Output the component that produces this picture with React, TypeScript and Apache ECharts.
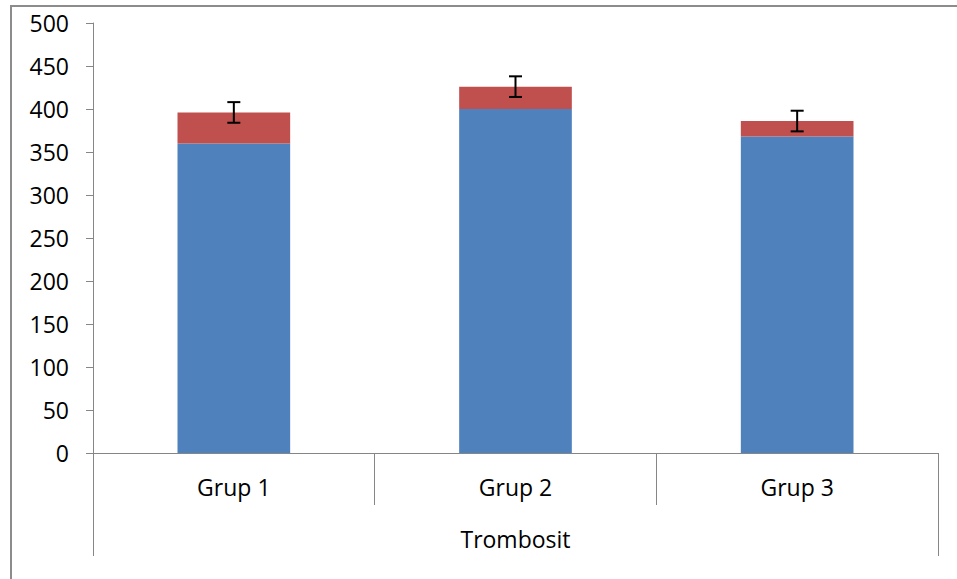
import React, { useEffect, useRef } from "react";
import * as echarts from "echarts";

const categories = ["Grup 1", "Grup 2", "Grup 3"];
const groupLabel = ["Trombosit"];
const blueValues = [360, 400, 368];
const redValues = [36, 26, 18];
const errorValues = [12, 12, 12];

const FONT = "'Open Sans', sans-serif";
const AXIS = "#868686";

export default function App() {
  const ref = useRef<HTMLDivElement>(null);
  useEffect(() => {
    const chart = echarts.init(ref.current!, null, { renderer: "svg" });
    const totals = blueValues.map((v, i) => v + redValues[i]);
    const errData = totals.map((t, i) => [i, t, errorValues[i]]);
    chart.setOption({
      animation: false,
      backgroundColor: "#ffffff",
      graphic: [
        {
          type: "rect",
          shape: { x: 11, y: 6, width: 1000, height: 700 },
          style: { fill: "none", stroke: "#8c8c8c", lineWidth: 2 },
          silent: true,
        },
      ],
      grid: { left: 93, top: 23, right: 19, bottom: 126 },
      xAxis: [
        {
          type: "category",
          data: categories,
          position: "bottom",
          axisLine: { show: true, lineStyle: { color: AXIS, width: 1 } },
          axisTick: { show: true, length: 52, lineStyle: { color: AXIS, width: 1 } },
          axisLabel: { color: "#000", fontFamily: FONT, fontSize: 23, margin: 22 },
        },
        {
          type: "category",
          data: groupLabel,
          position: "bottom",
          gridIndex: 0,
          axisLine: { show: false },
          axisTick: { show: true, length: 103, lineStyle: { color: AXIS, width: 1 } },
          axisLabel: { color: "#000", fontFamily: FONT, fontSize: 23, margin: 74 },
        },
      ],
      yAxis: {
        type: "value",
        min: 0,
        max: 500,
        interval: 50,
        axisLine: { show: true, lineStyle: { color: AXIS, width: 1 } },
        axisTick: { show: true, length: 7, lineStyle: { color: AXIS, width: 1 } },
        splitLine: { show: false },
        axisLabel: { color: "#000", fontFamily: FONT, fontSize: 23, margin: 24 },
      },
      series: [
        {
          type: "bar",
          stack: "a",
          data: blueValues,
          barWidth: "40%",
          itemStyle: { color: "#4F81BD" },
        },
        {
          type: "bar",
          stack: "a",
          data: redValues,
          barWidth: "40%",
          itemStyle: { color: "#C0504D" },
        },
        {
          type: "custom",
          data: errData,
          z: 10,
          renderItem: (params: any, api: any) => {
            const x = api.value(0);
            const t = api.value(1);
            const e = api.value(2);
            const top = api.coord([x, t + e]);
            const bot = api.coord([x, t - e]);
            const hw = 6.5;
            const style = { stroke: "#000", lineWidth: 2 };
            return {
              type: "group",
              children: [
                { type: "line", shape: { x1: top[0], y1: top[1], x2: bot[0], y2: bot[1] }, style },
                { type: "line", shape: { x1: top[0] - hw, y1: top[1], x2: top[0] + hw, y2: top[1] }, style },
                { type: "line", shape: { x1: bot[0] - hw, y1: bot[1], x2: bot[0] + hw, y2: bot[1] }, style },
              ],
            };
          },
        },
      ],
    });
    return () => chart.dispose();
  }, []);
  return (
    <div
      ref={ref}
      style={{ position: "absolute", left: 0, top: 0, width: 957, height: 579 }}
    />
  );
}
